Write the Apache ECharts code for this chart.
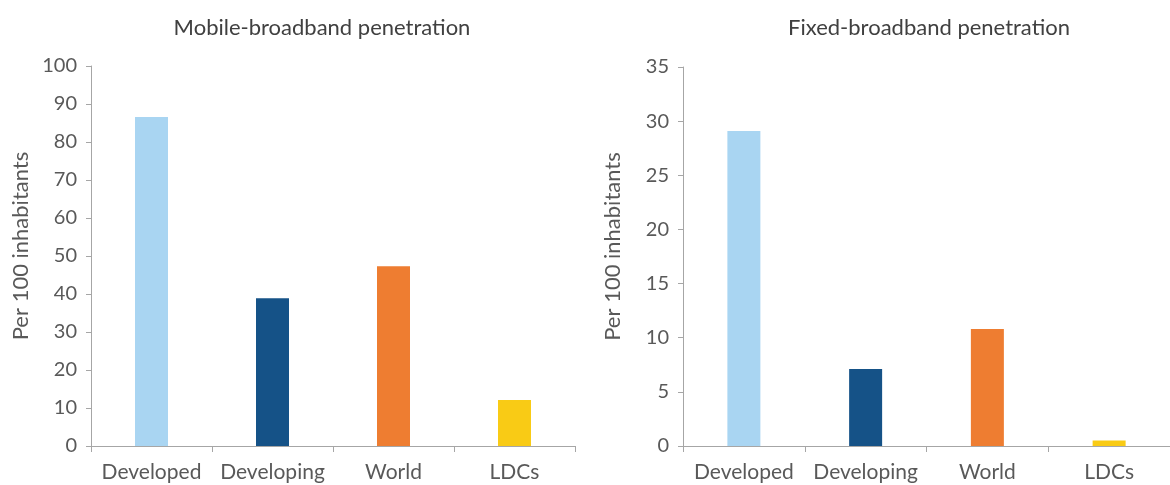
<!DOCTYPE html>
<html>
<head>
<meta charset="utf-8">
<script src="https://cdn.jsdelivr.net/npm/echarts@6/dist/echarts.min.js"></script>
<style>html,body{margin:0;padding:0;background:#fff}#c{width:1170px;height:485px}</style>
</head>
<body>
<div id="c"></div>
<script>
var categories = ['Developed', 'Developing', 'World', 'LDCs'];
var mobileValues = [86.6, 38.9, 47.3, 12.1];
var fixedValues = [29.1, 7.1, 10.8, 0.5];
var mobileTicks = [0, 100, 10];
var fixedTicks = [0, 35, 5];
var barColors = ['#a9d5f2', '#155287', '#ee7d31', '#f9cb15'];
var FONT = 'Lato';
var textColor = '#595959';
var axisColor = '#a6a6a6';

function colored(vals) {
  return vals.map(function (v, i) { return { value: v, itemStyle: { color: barColors[i] } }; });
}
function xAx(idx) {
  return {
    type: 'category', gridIndex: idx, data: categories,
    axisLine: { lineStyle: { color: axisColor, width: 1 } },
    axisTick: { show: true, length: 6, lineStyle: { color: axisColor } },
    axisLabel: { color: textColor, fontFamily: FONT, fontSize: 21, margin: 16, interval: 0 }
  };
}
function yAx(idx, t) {
  return {
    type: 'value', gridIndex: idx, min: t[0], max: t[1], interval: t[2],
    name: 'Per 100 inhabitants', nameLocation: 'middle', nameRotate: 90, nameGap: 59,
    nameTextStyle: { color: textColor, fontFamily: FONT, fontSize: 22, padding: [0, 0, 0, 20] },
    axisLine: { show: true, lineStyle: { color: axisColor, width: 1 } },
    axisTick: { show: true, inside: false, length: 5, lineStyle: { color: axisColor } },
    splitLine: { show: false },
    axisLabel: { color: textColor, fontFamily: FONT, fontSize: 20, margin: 14 }
  };
}
var chart = echarts.init(document.getElementById('c'), null, { renderer: 'canvas' });
chart.setOption({
  animation: false,
  title: [
    { text: 'Mobile-broadband penetration', left: 317, top: 12, textAlign: 'center',
      textStyle: { color: '#404040', fontFamily: FONT, fontSize: 22, fontWeight: 'normal' } },
    { text: 'Fixed-broadband penetration', left: 924, top: 12, textAlign: 'center',
      textStyle: { color: '#404040', fontFamily: FONT, fontSize: 22, fontWeight: 'normal' } }
  ],
  grid: [
    { left: 91, top: 66, width: 484, height: 380 },
    { left: 683, top: 67, width: 492, height: 379 }
  ],
  xAxis: [xAx(0), xAx(1)],
  yAxis: [yAx(0, mobileTicks), yAx(1, fixedTicks)],
  series: [
    { type: 'bar', xAxisIndex: 0, yAxisIndex: 0, barWidth: 33, data: colored(mobileValues) },
    { type: 'bar', xAxisIndex: 1, yAxisIndex: 1, barWidth: 33, data: colored(fixedValues) }
  ]
});
</script>
</body>
</html>
